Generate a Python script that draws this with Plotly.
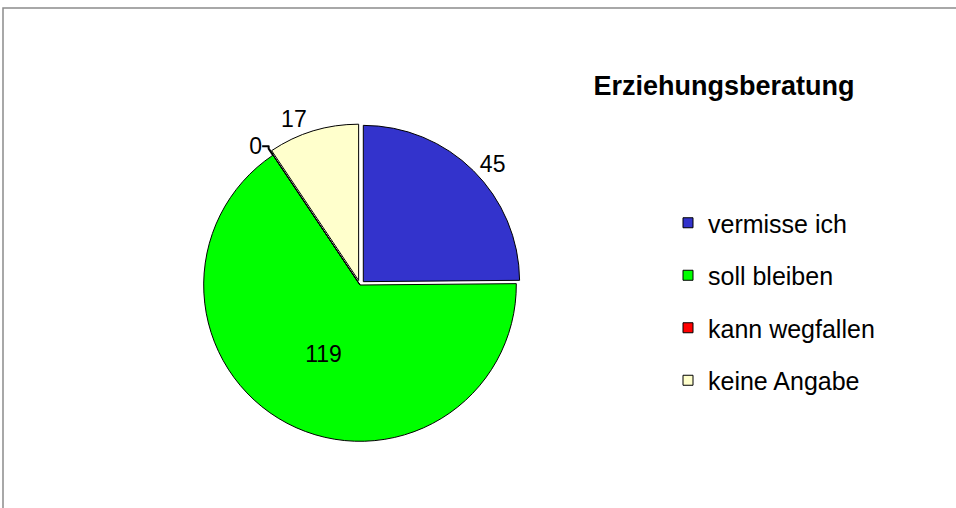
import plotly.graph_objects as go

categories = ["vermisse ich", "soll bleiben", "kann wegfallen", "keine Angabe"]
values = [45, 119, 0, 17]
colors = ["#3333CC", "#00FF00", "#FF0000", "#FFFFCC"]
pulls = [0.03, 0.0, 0.0, 0.03]
title_text = "Erziehungsberatung"

W, H = 956, 508
FONT = "Liberation Sans, Arial, sans-serif"

fig = go.Figure()

fig.add_trace(go.Pie(
    labels=categories,
    values=values,
    sort=False,
    direction="clockwise",
    rotation=0,
    pull=pulls,
    marker=dict(colors=colors, line=dict(color="#000000", width=1)),
    textinfo="value",
    textposition=["outside", "inside", "outside", "outside"],
    insidetextorientation="horizontal",
    textfont=dict(family=FONT, size=23, color="#000000"),
    showlegend=False,
    domain=dict(x=[199 / W, 521 / W], y=[1 - 446 / H, 1 - 124 / H]),
    hoverinfo="label+value",
))

# legend entries (one group per category for spacing)
for name, col in zip(categories, colors):
    fig.add_trace(go.Scatter(
        x=[None], y=[None], mode="markers", name=name, legendgroup=name,
        marker=dict(symbol="square", size=10, color=col, line=dict(color="#000000", width=1)),
        showlegend=True,
    ))

fig.update_layout(
    width=W, height=H,
    margin=dict(l=0, r=0, t=0, b=0),
    paper_bgcolor="#FFFFFF",
    plot_bgcolor="#FFFFFF",
    font=dict(family=FONT, size=20, color="#000000"),
    title=dict(text="<b>" + title_text + "</b>", x=724 / W, xanchor="center",
               y=1 - 86 / H, yanchor="middle",
               font=dict(family=FONT, size=27, color="#000000")),
    xaxis=dict(visible=False),
    yaxis=dict(visible=False),
    legend=dict(x=668 / W, xanchor="left", y=1 - 200 / H, yanchor="top",
                tracegroupgap=17, font=dict(family=FONT, size=25),
                bgcolor="rgba(0,0,0,0)", itemclick=False),
    shapes=[dict(type="rect", xref="paper", yref="paper",
                 x0=3 / W, x1=1.05, y0=-0.05, y1=1 - 8 / H,
                 line=dict(color="#8C8C8C", width=1.5), layer="below")],
)

fig.write_html("out.html", config={"displayModeBar": False},
               post_script="document.body.style.margin='0';document.body.style.overflow='hidden';")
